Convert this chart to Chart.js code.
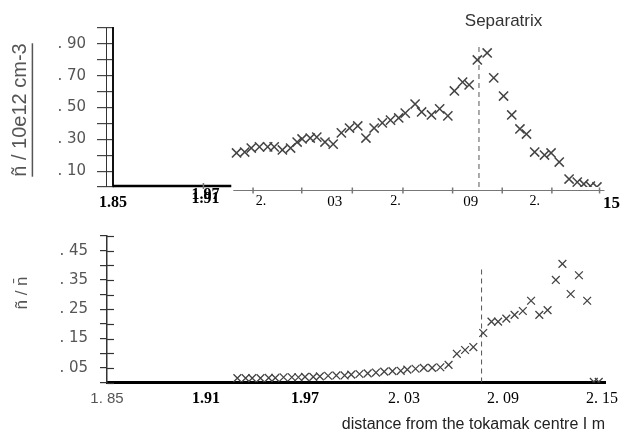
<!DOCTYPE html>
<html lang="en">
<head>
<meta charset="utf-8">
<title>Density profile and fluctuation level</title>
<script src="https://cdn.jsdelivr.net/npm/chart.js"></script>
<style>
    body { margin: 0; background: #fff; }
    #wrap { position: relative; width: 626px; height: 434px; }
    .panel { position: absolute; left: 0; width: 626px; }
    #top { top: 0; height: 215px; }
    #bot { top: 215px; height: 219px; }
</style>
</head>
<body>
<div id="wrap">
    <div class="panel" id="top"><canvas id="chartTop"></canvas></div>
    <div class="panel" id="bot"><canvas id="chartBot"></canvas></div>
</div>

<script>
// upper panel: mean density (10e12 cm-3) vs distance from the centre (m)
const topR = [1.929, 1.934, 1.938, 1.943, 1.948, 1.952, 1.957, 1.962, 1.966, 1.969,
              1.974, 1.978, 1.983, 1.988, 1.993, 1.998, 2.003, 2.008, 2.013, 2.018,
              2.023, 2.028, 2.032, 2.038, 2.042, 2.048, 2.053, 2.058, 2.062, 2.067,
              2.071, 2.076, 2.082, 2.086, 2.092, 2.097, 2.102, 2.106, 2.111, 2.117,
              2.121, 2.126, 2.132, 2.137, 2.141, 2.145, 2.149];
const topDensity = [0.214, 0.220, 0.245, 0.252, 0.252, 0.252, 0.233, 0.245, 0.283, 0.302,
                    0.308, 0.314, 0.283, 0.270, 0.340, 0.371, 0.384, 0.308, 0.371, 0.403,
                    0.421, 0.434, 0.465, 0.522, 0.472, 0.453, 0.491, 0.447, 0.604, 0.660,
                    0.642, 0.799, 0.843, 0.686, 0.572, 0.453, 0.365, 0.333, 0.220, 0.201,
                    0.214, 0.157, 0.050, 0.031, 0.019, 0.006, 0.000];

// lower panel: relative fluctuation level
const botR = [1.929, 1.934, 1.938, 1.943, 1.948, 1.952, 1.957, 1.962, 1.966, 1.970,
              1.975, 1.979, 1.984, 1.989, 1.994, 1.998, 2.003, 2.008, 2.013, 2.018,
              2.023, 2.028, 2.032, 2.037, 2.042, 2.047, 2.052, 2.057, 2.062, 2.067,
              2.072, 2.078, 2.083, 2.087, 2.092, 2.097, 2.102, 2.107, 2.112, 2.117,
              2.122, 2.126, 2.131, 2.136, 2.141, 2.145, 2.148];
const botRatio = [0.015, 0.015, 0.015, 0.015, 0.016, 0.016, 0.018, 0.018, 0.018, 0.019,
                  0.019, 0.021, 0.023, 0.024, 0.024, 0.027, 0.029, 0.031, 0.034, 0.037,
                  0.039, 0.040, 0.044, 0.047, 0.050, 0.050, 0.052, 0.060, 0.098, 0.111,
                  0.121, 0.169, 0.208, 0.208, 0.218, 0.231, 0.244, 0.279, 0.231, 0.247,
                  0.350, 0.405, 0.302, 0.366, 0.279, 0.002, 0.002];

const separatrixR = 2.077;
const topSepTop = 0.89;
const botSepTop = 0.39;

// axis ticks and labels (as printed, garbled scan included)
const topYTicks  = [0, 0.1, 0.2, 0.3, 0.4, 0.5, 0.6, 0.7, 0.8, 0.9, 1.0];
const topYLabels = ['', '. 10', '', '. 30', '', '. 50', '', '. 70', '', '. 90', ''];
const topXTicks  = [1.8536, 1.91, 1.944, 1.989, 2.026, 2.072, 2.111, 2.1579];
const topXLabels = ['1.85', ['1.97', '1.91'], '2.', '03', '2.', '09', '2.', '15'];
const topXMarks  = [1.9088, 1.9391, 1.9688, 1.9997, 2.0306, 2.0609, 2.0912, 2.1215, 2.1506];
const botYTicks  = [0, 0.05, 0.1, 0.15, 0.2, 0.25, 0.3, 0.35, 0.4, 0.45, 0.5];
const botYLabels = ['', '. 05', '', '. 15', '', '. 25', '', '. 35', '', '. 45', ''];
const botXTicks  = [1.85, 1.91, 1.97, 2.03, 2.09, 2.15];
const botXLabels = ['1. 85', '1.91', '1.97', '2. 03', '2. 09', '2. 15'];

const SANS = "'Liberation Sans', Arial, sans-serif";
const WIDE = "'DejaVu Sans', sans-serif";
const SERIF = "'Liberation Serif', 'Times New Roman', serif";

const topXFonts = [
    { family: SERIF, size: 16, weight: 'bold' },
    { family: SERIF, size: 16, weight: 'bold', lineHeight: 0.25 },
    { family: SERIF, size: 14 },
    { family: SERIF, size: 15 },
    { family: SERIF, size: 14 },
    { family: SERIF, size: 15 },
    { family: SERIF, size: 14 },
    { family: SERIF, size: 17, weight: 'bold' }
];
const botXFonts = [
    { family: SANS, size: 15 },
    { family: SERIF, size: 16, weight: 'bold' },
    { family: SERIF, size: 16, weight: 'bold' },
    { family: SERIF, size: 16 },
    { family: SERIF, size: 16 },
    { family: SERIF, size: 16 }
];

// tick stubs on the inner side of the y axis, plus an optional thin rule
const innerTicks = {
    id: 'innerTicks',
    afterDraw(chart, args, o) {
        const y = chart.scales.y, ctx = chart.ctx, left = chart.chartArea.left;
        ctx.save();
        ctx.strokeStyle = o.color;
        ctx.lineWidth = 1.2;
        if (o.len > 0) {
            y.ticks.forEach(t => {
                const py = Math.round(y.getPixelForValue(t.value)) + 0.5;
                ctx.beginPath();
                ctx.moveTo(left, py);
                ctx.lineTo(left + o.len, py);
                ctx.stroke();
            });
        }
        if (o.rule) {
            ctx.lineWidth = 1;
            ctx.beginPath();
            ctx.moveTo(left - o.rule + 0.5, y.top);
            ctx.lineTo(left - o.rule + 0.5, y.bottom);
            ctx.stroke();
        }
        ctx.restore();
    }
};

// the upper x axis is printed in two pieces: bold stub then a thin ruled line
const brokenAxis = {
    id: 'brokenAxis',
    afterDraw(chart, args, o) {
        const x = chart.scales.x, y = chart.scales.y, ctx = chart.ctx;
        const y0 = y.getPixelForValue(0);
        const xb = x.getPixelForValue(o.breakAt);
        ctx.save();
        ctx.strokeStyle = '#000';
        ctx.lineWidth = 2.5;
        ctx.beginPath();
        ctx.moveTo(chart.chartArea.left, y0 - 1);
        ctx.lineTo(xb, y0 - 1);
        ctx.stroke();
        ctx.strokeStyle = '#777';
        ctx.lineWidth = 1;
        ctx.beginPath();
        ctx.moveTo(xb + 2, y0 + 3.5);
        ctx.lineTo(x.getPixelForValue(o.end), y0 + 3.5);
        ctx.stroke();
        ctx.lineWidth = 1.5;
        o.marks.forEach(v => {
            const px = x.getPixelForValue(v);
            const base = v < o.breakAt ? y0 - 1 : y0 + 3.5;
            ctx.beginPath();
            ctx.moveTo(px, base - 3);
            ctx.lineTo(px, base + 3);
            ctx.stroke();
        });
        // separatrix label
        ctx.fillStyle = '#333';
        ctx.font = '17px ' + SANS;
        ctx.textAlign = 'center';
        ctx.textBaseline = 'middle';
        ctx.fillText(o.label, x.getPixelForValue(o.labelAt), 21);
        ctx.restore();
    }
};

// rotated y title, underlined on the upper panel
const yTitle = {
    id: 'yTitle',
    afterDraw(chart, args, o) {
        const ctx = chart.ctx;
        ctx.save();
        ctx.translate(o.x, o.y);
        ctx.rotate(-Math.PI / 2);
        ctx.font = o.size + 'px ' + SANS;
        ctx.fillStyle = '#555';
        ctx.textAlign = 'center';
        ctx.textBaseline = 'middle';
        ctx.fillText(o.text, 0, 0);
        if (o.underline) {
            const w = ctx.measureText(o.text).width;
            ctx.strokeStyle = '#555';
            ctx.lineWidth = 1.5;
            ctx.beginPath();
            ctx.moveTo(-w / 2, o.size * 0.62);
            ctx.lineTo(w / 2, o.size * 0.62);
            ctx.stroke();
        }
        ctx.restore();
    }
};

function pointsOf(xs, ys) {
    return xs.map((r, i) => ({ x: r, y: ys[i] }));
}

const markStyle = {
    showLine: false,
    pointStyle: 'crossRot',
    pointRadius: 6.5,
    pointBorderWidth: 1.5,
    borderColor: '#444',
    pointBorderColor: '#444'
};

const sepStyle = {
    showLine: true,
    borderColor: '#555',
    borderWidth: 1,
    borderDash: [5, 4],
    pointRadius: 0
};

// ---- upper chart
new Chart(document.getElementById('chartTop'), {
    type: 'scatter',
    data: {
        datasets: [
            Object.assign({ data: pointsOf(topR, topDensity) }, markStyle),
            Object.assign({ data: [{ x: separatrixR, y: 0 }, { x: separatrixR, y: topSepTop }] }, sepStyle)
        ]
    },
    options: {
        responsive: true,
        maintainAspectRatio: false,
        animation: false,
        layout: { autoPadding: false, padding: { left: 0, right: 11, top: 28, bottom: 0 } },
        plugins: {
            legend: { display: false },
            tooltip: { enabled: false },
            innerTicks: { color: '#333', len: 0, rule: 7 },
            brokenAxis: { breakAt: 1.9258, end: 2.1536, marks: topXMarks, label: 'Separatrix', labelAt: 2.092 },
            yTitle: { text: 'ñ / 10e12 cm-3', x: 20, y: 110, size: 20, underline: true }
        },
        scales: {
            x: {
                type: 'linear',
                min: 1.8536,
                max: 2.1579,
                border: { display: false },
                grid: { display: false, drawTicks: false },
                afterBuildTicks: s => { s.ticks = topXTicks.map(v => ({ value: v })); },
                afterFit: s => { s.height = 28; },
                ticks: {
                    autoSkip: false,
                    maxRotation: 0,
                    padding: 6,
                    color: '#000',
                    font: ctx => topXFonts[ctx.index],
                    callback: (v, i) => topXLabels[i]
                }
            },
            y: {
                min: 0,
                max: 1,
                border: { display: true, color: '#111', width: 2 },
                grid: { display: true, drawOnChartArea: false, drawTicks: true, tickLength: 16, color: '#444', lineWidth: 1.2 },
                afterBuildTicks: s => { s.ticks = topYTicks.map(v => ({ value: v })); },
                afterFit: s => { s.width = 113; },
                ticks: {
                    autoSkip: false,
                    padding: 11,
                    color: '#555',
                    font: { family: WIDE, size: 15 },
                    callback: (v, i) => topYLabels[i]
                }
            }
        }
    },
    plugins: [innerTicks, brokenAxis, yTitle]
});

// ---- lower chart
new Chart(document.getElementById('chartBot'), {
    type: 'scatter',
    data: {
        datasets: [
            Object.assign({ data: pointsOf(botR, botRatio) }, markStyle, { pointRadius: 5.5, pointBorderWidth: 1.3 }),
            Object.assign({ data: [{ x: separatrixR, y: 0 }, { x: separatrixR, y: botSepTop }] }, sepStyle)
        ]
    },
    options: {
        responsive: true,
        maintainAspectRatio: false,
        animation: false,
        layout: { autoPadding: false, padding: { left: 0, right: 21, top: 12.5, bottom: 0 } },
        plugins: {
            legend: { display: false },
            tooltip: { enabled: false },
            innerTicks: { color: '#333', len: 7, rule: 0 },
            yTitle: { text: 'ñ / n̄', x: 22, y: 78, size: 17, underline: false }
        },
        scales: {
            x: {
                type: 'linear',
                min: 1.85,
                max: 2.1518,
                border: { display: true, color: '#000', width: 3 },
                grid: { display: false, drawTicks: false },
                afterBuildTicks: s => { s.ticks = botXTicks.map(v => ({ value: v })); },
                afterFit: s => { s.height = 51.5; },
                ticks: {
                    autoSkip: false,
                    maxRotation: 0,
                    padding: 7,
                    color: ctx => ctx.index === 0 ? '#555' : '#000',
                    font: ctx => botXFonts[ctx.index],
                    callback: (v, i) => botXLabels[i]
                },
                title: {
                    display: true,
                    text: 'distance from the tokamak centre I m',
                    align: 'end',
                    color: '#222',
                    font: { family: SANS, size: 16 },
                    padding: { top: 5, bottom: 0 }
                }
            },
            y: {
                min: 0,
                max: 0.5,
                border: { display: true, color: '#333', width: 1.5 },
                grid: { display: true, drawOnChartArea: false, drawTicks: true, tickLength: 7, color: '#333', lineWidth: 1.2 },
                afterBuildTicks: s => { s.ticks = botYTicks.map(v => ({ value: v })); },
                afterFit: s => { s.width = 107; },
                ticks: {
                    autoSkip: false,
                    padding: 12,
                    color: '#555',
                    font: { family: WIDE, size: 15 },
                    callback: (v, i) => botYLabels[i]
                }
            }
        }
    },
    plugins: [innerTicks, yTitle]
});
</script>
</body>
</html>
